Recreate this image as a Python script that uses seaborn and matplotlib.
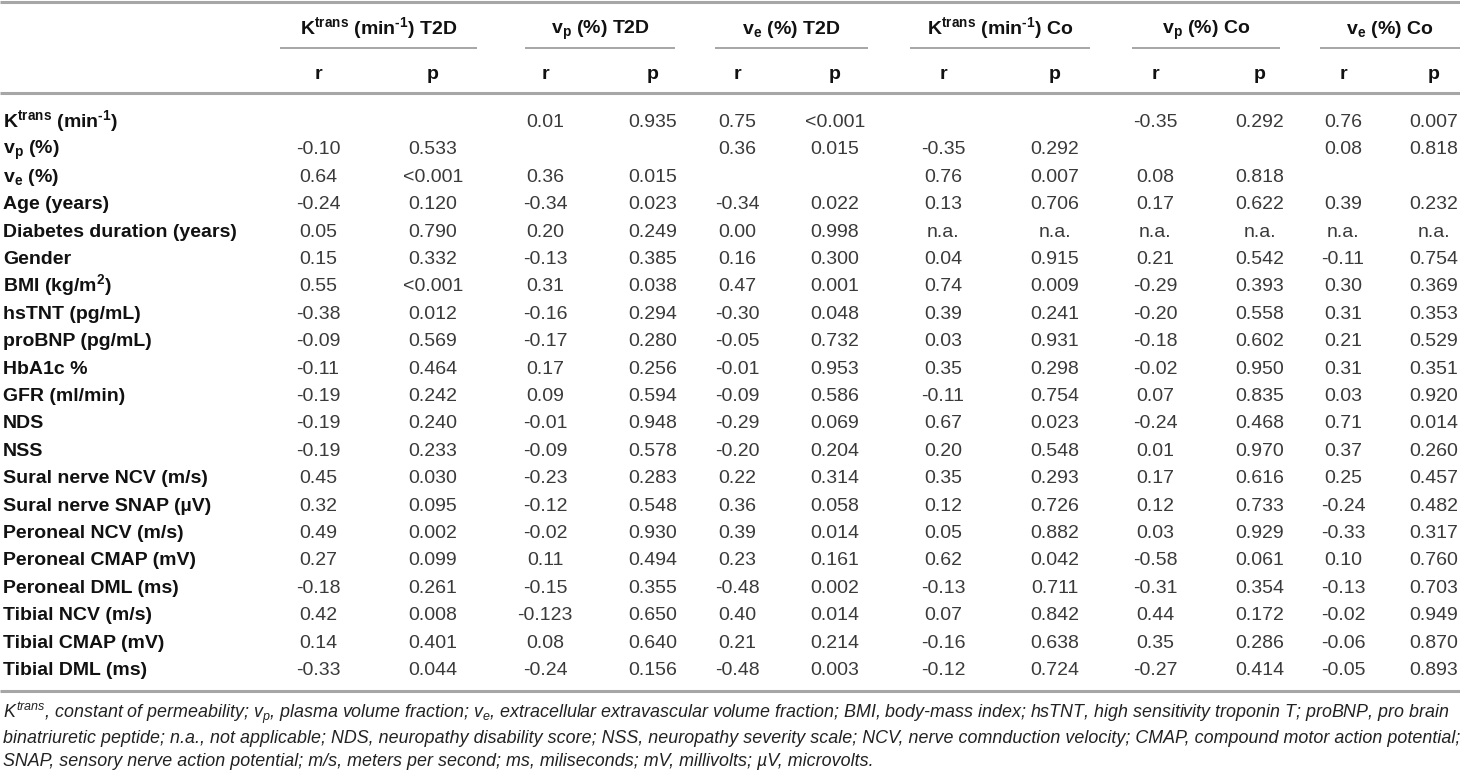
import matplotlib
matplotlib.use("Agg")
import matplotlib.pyplot as plt
import seaborn as sns

# ---------------- data ----------------
HY = "\u2010"  # hyphen used in the superscript "-1"
row_labels = [
    r"$\mathbf{K^{trans}}$ (min$\mathbf{^{" + HY + r"1}}$)",
    r"$\mathbf{v_p}$ (%)",
    r"$\mathbf{v_e}$ (%)",
    "Age (years)",
    "Diabetes duration (years)",
    "Gender",
    r"BMI (kg/m$\mathbf{^2}$)",
    "hsTNT (pg/mL)",
    "proBNP (pg/mL)",
    "HbA1c %",
    "GFR (ml/min)",
    "NDS",
    "NSS",
    "Sural nerve NCV (m/s)",
    "Sural nerve SNAP (µV)",
    "Peroneal NCV (m/s)",
    "Peroneal CMAP (mV)",
    "Peroneal DML (ms)",
    "Tibial NCV (m/s)",
    "Tibial CMAP (mV)",
    "Tibial DML (ms)",
]

group_titles = [
    r"$\mathbf{K^{trans}}$ (min$\mathbf{^{" + HY + r"1}}$) T2D",
    r"$\mathbf{v_p}$ (%) T2D",
    r"$\mathbf{v_e}$ (%) T2D",
    r"$\mathbf{K^{trans}}$ (min$\mathbf{^{" + HY + r"1}}$) Co",
    r"$\mathbf{v_p}$ (%) Co",
    r"$\mathbf{v_e}$ (%) Co",
]
sub_headers = ["r", "p"]

ktrans_t2d_r = ["", "-0.10", "0.64", "-0.24", "0.05", "0.15", "0.55", "-0.38", "-0.09", "-0.11", "-0.19",
                "-0.19", "-0.19", "0.45", "0.32", "0.49", "0.27", "-0.18", "0.42", "0.14", "-0.33"]
ktrans_t2d_p = ["", "0.533", "<0.001", "0.120", "0.790", "0.332", "<0.001", "0.012", "0.569", "0.464", "0.242",
                "0.240", "0.233", "0.030", "0.095", "0.002", "0.099", "0.261", "0.008", "0.401", "0.044"]
vp_t2d_r = ["0.01", "", "0.36", "-0.34", "0.20", "-0.13", "0.31", "-0.16", "-0.17", "0.17", "0.09",
            "-0.01", "-0.09", "-0.23", "-0.12", "-0.02", "0.11", "-0.15", "-0.123", "0.08", "-0.24"]
vp_t2d_p = ["0.935", "", "0.015", "0.023", "0.249", "0.385", "0.038", "0.294", "0.280", "0.256", "0.594",
            "0.948", "0.578", "0.283", "0.548", "0.930", "0.494", "0.355", "0.650", "0.640", "0.156"]
ve_t2d_r = ["0.75", "0.36", "", "-0.34", "0.00", "0.16", "0.47", "-0.30", "-0.05", "-0.01", "-0.09",
            "-0.29", "-0.20", "0.22", "0.36", "0.39", "0.23", "-0.48", "0.40", "0.21", "-0.48"]
ve_t2d_p = ["<0.001", "0.015", "", "0.022", "0.998", "0.300", "0.001", "0.048", "0.732", "0.953", "0.586",
            "0.069", "0.204", "0.314", "0.058", "0.014", "0.161", "0.002", "0.014", "0.214", "0.003"]
ktrans_co_r = ["", "-0.35", "0.76", "0.13", "n.a.", "0.04", "0.74", "0.39", "0.03", "0.35", "-0.11",
               "0.67", "0.20", "0.35", "0.12", "0.05", "0.62", "-0.13", "0.07", "-0.16", "-0.12"]
ktrans_co_p = ["", "0.292", "0.007", "0.706", "n.a.", "0.915", "0.009", "0.241", "0.931", "0.298", "0.754",
               "0.023", "0.548", "0.293", "0.726", "0.882", "0.042", "0.711", "0.842", "0.638", "0.724"]
vp_co_r = ["-0.35", "", "0.08", "0.17", "n.a.", "0.21", "-0.29", "-0.20", "-0.18", "-0.02", "0.07",
           "-0.24", "0.01", "0.17", "0.12", "0.03", "-0.58", "-0.31", "0.44", "0.35", "-0.27"]
vp_co_p = ["0.292", "", "0.818", "0.622", "n.a.", "0.542", "0.393", "0.558", "0.602", "0.950", "0.835",
           "0.468", "0.970", "0.616", "0.733", "0.929", "0.061", "0.354", "0.172", "0.286", "0.414"]
ve_co_r = ["0.76", "0.08", "", "0.39", "n.a.", "-0.11", "0.30", "0.31", "0.21", "0.31", "0.03",
           "0.71", "0.37", "0.25", "-0.24", "-0.33", "0.10", "-0.13", "-0.02", "-0.06", "-0.05"]
ve_co_p = ["0.007", "0.818", "", "0.232", "n.a.", "0.754", "0.369", "0.353", "0.529", "0.351", "0.920",
           "0.014", "0.260", "0.457", "0.482", "0.317", "0.760", "0.703", "0.949", "0.870", "0.893"]

columns = [ktrans_t2d_r, ktrans_t2d_p, vp_t2d_r, vp_t2d_p, ve_t2d_r, ve_t2d_p,
           ktrans_co_r, ktrans_co_p, vp_co_r, vp_co_p, ve_co_r, ve_co_p]

footnote_lines = [
    r"$K^{trans}$, constant of permeability; $v_p$, plasma volume fraction; $v_e$, extracellular extravascular "
    r"volume fraction; BMI, body-mass index; hsTNT, high sensitivity troponin T; proBNP, pro brain",
    "binatriuretic peptide; n.a., not applicable; NDS, neuropathy disability score; NSS, neuropathy severity "
    "scale; NCV, nerve comnduction velocity; CMAP, compound motor action potential;",
    "SNAP, sensory nerve action potential; m/s, meters per second; ms, miliseconds; mV, millivolts; µV, microvolts.",
]

# ---------------- layout ----------------
sns.set_theme(style="white")
plt.rcParams["font.family"] = ["Liberation Sans", "DejaVu Sans"]
plt.rcParams["mathtext.fontset"] = "custom"
plt.rcParams["mathtext.rm"] = "Liberation Sans"
plt.rcParams["mathtext.it"] = "Liberation Sans:italic"
plt.rcParams["mathtext.bf"] = "Liberation Sans:bold"
plt.rcParams["mathtext.default"] = "it"

W, H = 1460, 774
fig = plt.figure(figsize=(W / 100, H / 100), dpi=100)
ax = fig.add_axes([0, 0, 1, 1])
ax.set_xlim(0, W)
ax.set_ylim(H, 0)
ax.axis("off")

col_x = [318, 433, 545, 653, 737, 835, 943, 1055, 1155, 1260, 1343, 1434]
group_spans = [(280, 477), (525, 675), (715, 868), (910, 1090), (1132, 1280), (1320, 1460)]

FS = 14
rule_color = "#a6a6a6"
data_color = "#3a3a3a"
label_color = "#111111"

BL = 7  # baseline offset from the visual text centre
y_title, y_under, y_sub, y_rule = 27, 48, 72, 93
y_row0, row_h = 120, 27.4
y_bottom_rule = 691
y_foot = [712, 737, 760]

# rules
ax.plot([0, W], [1.5, 1.5], color=rule_color, lw=2.2, solid_capstyle="butt")
ax.plot([0, W], [y_rule, y_rule], color=rule_color, lw=2.2, solid_capstyle="butt")
ax.plot([0, W], [y_bottom_rule, y_bottom_rule], color=rule_color, lw=2.2, solid_capstyle="butt")

# headers
for g, (title, (x0, x1)) in enumerate(zip(group_titles, group_spans)):
    ax.text((x0 + x1) / 2, y_title + BL, title, ha="center", va="baseline", fontsize=FS,
            fontweight="bold", color=label_color)
    ax.plot([x0, x1], [y_under, y_under], color=rule_color, lw=1.4, solid_capstyle="butt")
    for k, sh in enumerate(sub_headers):
        ax.text(col_x[2 * g + k], y_sub + BL, sh, ha="center", va="baseline", fontsize=FS,
                fontweight="bold", color=label_color)

# body
for i, lab in enumerate(row_labels):
    y = y_row0 + i * row_h + BL
    ax.text(3, y, lab, ha="left", va="baseline", fontsize=FS, fontweight="bold", color=label_color)
    for c, col in enumerate(columns):
        if col[i]:
            ax.text(col_x[c], y, col[i], ha="center", va="baseline", fontsize=FS, color=data_color)

# footnote
for y, line in zip(y_foot, footnote_lines):
    ax.text(3, y + 6, line, ha="left", va="baseline", fontsize=12.85, style="italic", color="#222222")

fig.savefig("out.png", dpi=100)
